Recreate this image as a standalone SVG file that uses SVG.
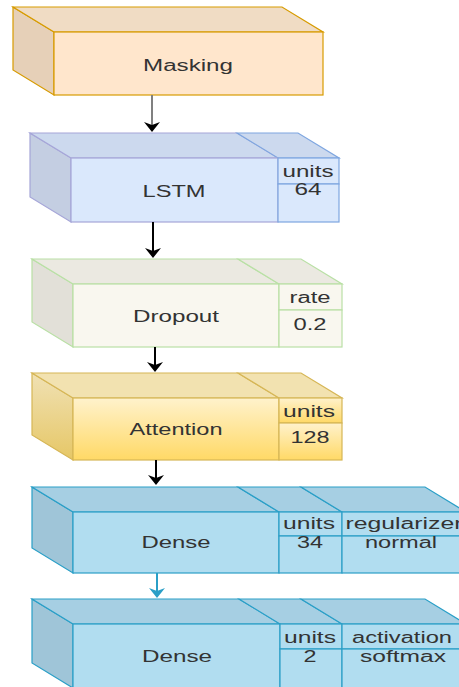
<svg xmlns="http://www.w3.org/2000/svg" width="459" height="687" viewBox="0 0 459 687">
  <defs>
    <linearGradient id="attnFront" x1="0" y1="0" x2="0" y2="1">
      <stop offset="0" stop-color="#fff2cc"/>
      <stop offset="1" stop-color="#ffd966"/>
    </linearGradient>
    <linearGradient id="attnSide" x1="0" y1="0" x2="0" y2="1">
      <stop offset="0" stop-color="#f0e1b4"/>
      <stop offset="1" stop-color="#e6c766"/>
    </linearGradient>
    <marker id="headDark" viewBox="0 -8 10 16" markerWidth="10" markerHeight="16" refX="3" refY="0" orient="auto" markerUnits="userSpaceOnUse">
      <path d="M0,-8 L10,0 L0,8 L3,0 Z" fill="#000"/>
    </marker>
    <marker id="headBlue" viewBox="0 -8 10 16" markerWidth="10" markerHeight="16" refX="3" refY="0" orient="auto" markerUnits="userSpaceOnUse">
      <path d="M0,-8 L10,0 L0,8 L3,0 Z" fill="#2a9fc7"/>
    </marker>
  </defs>
  <style>
    text { font-family: "Liberation Sans", Arial, Helvetica, sans-serif; font-size: 16px; fill: #333; text-anchor: middle; }
    .mask polygon, .mask rect { stroke: #d79b00; stroke-width: 1.2; }
    .mask .front { fill: #ffe6cc; } .mask .top { fill: #f0dcc4; } .mask .side { fill: #e6d0b8; }
    .lstm polygon, .lstm rect { stroke: #a6a6d8; stroke-width: 1.2; }
    .lstm .prm { stroke: #7ea6e0; }
    .lstm .front { fill: #dae8fc; } .lstm .top { fill: #ccd9ee; } .lstm .side { fill: #c4cee2; }
    .drop polygon, .drop rect { stroke: #b9e0a5; stroke-width: 1.2; }
    .drop .front { fill: #f9f7ef; } .drop .top { fill: #ebe9e1; } .drop .side { fill: #e2e0d8; }
    .attn polygon, .attn rect { stroke: #d6b656; stroke-width: 1.2; }
    .attn .front { fill: url(#attnFront); } .attn .top { fill: #f2e2b0; } .attn .side { fill: url(#attnSide); }
    .dense polygon, .dense rect { stroke: #2a9fc7; stroke-width: 1.2; }
    .dense .front { fill: #b1ddf0; } .dense .top { fill: #a6cfe3; } .dense .side { fill: #9fc5d8; }
    .link { stroke-width: 2; fill: none; }
  </style>

  <!-- Masking layer -->
  <g id="masking" class="mask">
    <polygon class="side" points="13,7 54,32 54,95 13,70"/>
    <polygon class="top" points="13,7 282,7 323,32 54,32"/>
    <rect class="front" x="54" y="32" width="269" height="63"/>
    <text x="188" y="71" textLength="90" lengthAdjust="spacingAndGlyphs">Masking</text>
  </g>

  <!-- LSTM layer -->
  <g id="lstm" class="lstm">
    <polygon class="side" points="30,133 71,158 71,222 30,197"/>
    <polygon class="top" points="30,133 237,133 278,158 71,158"/>
    <polygon class="top prm" points="237,133 298,133 339,158 278,158"/>
    <rect class="front" x="71" y="158" width="207" height="64"/>
    <rect class="front prm" x="278" y="158" width="61" height="26"/>
    <rect class="front prm" x="278" y="184" width="61" height="38"/>
    <text x="174" y="197" textLength="63" lengthAdjust="spacingAndGlyphs">LSTM</text>
    <text x="308" y="177" textLength="51" lengthAdjust="spacingAndGlyphs">units</text>
    <text x="308" y="195" textLength="27" lengthAdjust="spacingAndGlyphs">64</text>
  </g>

  <!-- Dropout layer -->
  <g id="dropout" class="drop">
    <polygon class="side" points="32,259 73,284 73,347 32,322"/>
    <polygon class="top" points="32,259 238,259 279,284 73,284"/>
    <polygon class="top" points="238,259 301,259 342,284 279,284"/>
    <rect class="front" x="73" y="284" width="206" height="63"/>
    <rect class="front" x="279" y="284" width="63" height="26"/>
    <rect class="front" x="279" y="310" width="63" height="37"/>
    <text x="176" y="322" textLength="86" lengthAdjust="spacingAndGlyphs">Dropout</text>
    <text x="310" y="303" textLength="41" lengthAdjust="spacingAndGlyphs">rate</text>
    <text x="310" y="330" textLength="33" lengthAdjust="spacingAndGlyphs">0.2</text>
  </g>

  <!-- Attention layer -->
  <g id="attention" class="attn">
    <polygon class="side" points="32,373 73,398 73,460 32,435"/>
    <polygon class="top" points="32,373 238,373 279,398 73,398"/>
    <polygon class="top" points="238,373 301,373 342,398 279,398"/>
    <rect class="front" x="73" y="398" width="206" height="62"/>
    <rect class="front" x="279" y="398" width="63" height="25"/>
    <rect class="front" x="279" y="423" width="63" height="37"/>
    <text x="176" y="435" textLength="93" lengthAdjust="spacingAndGlyphs">Attention</text>
    <text x="309" y="417" textLength="52" lengthAdjust="spacingAndGlyphs">units</text>
    <text x="310" y="443" textLength="39" lengthAdjust="spacingAndGlyphs">128</text>
  </g>

  <!-- Dense layer (34 units) -->
  <g id="dense1" class="dense">
    <polygon class="side" points="32,487 73,512 73,573 32,548"/>
    <polygon class="top" points="32,487 238,487 279,512 73,512"/>
    <polygon class="top" points="238,487 301,487 342,512 279,512"/>
    <polygon class="top" points="301,487 425,487 466,512 342,512"/>
    <rect class="front" x="73" y="512" width="206" height="61"/>
    <rect class="front" x="279" y="512" width="63" height="24"/>
    <rect class="front" x="279" y="536" width="63" height="37"/>
    <rect class="front" x="342" y="512" width="124" height="24"/>
    <rect class="front" x="342" y="536" width="124" height="37"/>
    <text x="176" y="548" textLength="69" lengthAdjust="spacingAndGlyphs">Dense</text>
    <text x="309" y="529" textLength="52" lengthAdjust="spacingAndGlyphs">units</text>
    <text x="310" y="548" textLength="26" lengthAdjust="spacingAndGlyphs">34</text>
    <text x="404" y="529" textLength="117" lengthAdjust="spacingAndGlyphs">regularizer</text>
    <text x="401" y="548" textLength="72" lengthAdjust="spacingAndGlyphs">normal</text>
  </g>

  <!-- Dense layer (2 units, softmax) -->
  <g id="dense2" class="dense">
    <polygon class="side" points="32,599 73,624 73,688 32,663"/>
    <polygon class="top" points="32,599 239,599 280,624 73,624"/>
    <polygon class="top" points="239,599 301,599 342,624 280,624"/>
    <polygon class="top" points="301,599 425,599 466,624 342,624"/>
    <rect class="front" x="73" y="624" width="207" height="64"/>
    <rect class="front" x="280" y="624" width="62" height="25"/>
    <rect class="front" x="280" y="649" width="62" height="39"/>
    <rect class="front" x="342" y="624" width="124" height="25"/>
    <rect class="front" x="342" y="649" width="124" height="39"/>
    <text x="177" y="662" textLength="70" lengthAdjust="spacingAndGlyphs">Dense</text>
    <text x="310" y="643" textLength="52" lengthAdjust="spacingAndGlyphs">units</text>
    <text x="310" y="662" textLength="13" lengthAdjust="spacingAndGlyphs">2</text>
    <text x="402" y="643" textLength="100" lengthAdjust="spacingAndGlyphs">activation</text>
    <text x="403" y="662" textLength="86" lengthAdjust="spacingAndGlyphs">softmax</text>
  </g>

  <!-- Connectors between layers -->
  <g id="connectors">
    <line class="link" x1="152" y1="95" x2="152" y2="125" stroke="#808080" marker-end="url(#headDark)"/>
    <line class="link" x1="153" y1="222" x2="153" y2="251" stroke="#000" marker-end="url(#headDark)"/>
    <line class="link" x1="155" y1="347" x2="155" y2="365" stroke="#000" marker-end="url(#headDark)"/>
    <line class="link" x1="156" y1="460" x2="156" y2="478" stroke="#000" marker-end="url(#headDark)"/>
    <line class="link" x1="157" y1="573" x2="157" y2="591" stroke="#2a9fc7" marker-end="url(#headBlue)"/>
  </g>
</svg>
